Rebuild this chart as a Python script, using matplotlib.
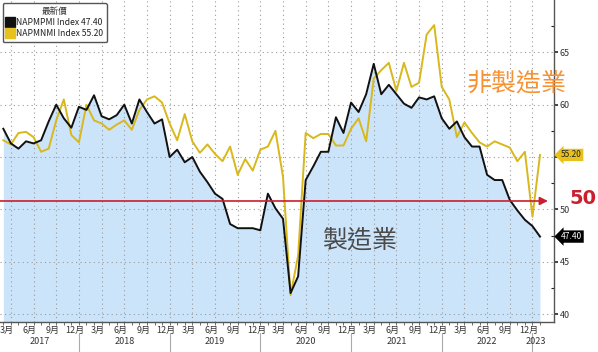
import numpy as np
import pandas as pd
import matplotlib
matplotlib.use("Agg")
import matplotlib.pyplot as plt
import matplotlib.transforms as mtransforms
from matplotlib.lines import Line2D

plt.rcParams["font.family"] = ["Noto Sans CJK TC", "DejaVu Sans"]

# --- data (monthly, Feb 2017 .. Jan 2023) ---
months = pd.period_range("2017-02", "2023-01", freq="M")

napm_pmi = [57.7, 56.3, 55.8, 56.5, 56.3, 56.6, 58.4, 60.0, 58.7, 57.8, 59.8,
            59.5, 60.9, 58.9, 58.6, 59.0, 60.0, 58.2, 60.5, 59.3, 58.2, 58.6,
            55.0, 55.7, 54.5, 55.0, 53.6, 52.6, 51.5, 51.0, 48.6, 48.2, 48.2,
            48.2, 48.0, 51.5, 50.1, 49.1, 42.0, 43.6, 52.8, 54.1, 55.5, 55.5,
            58.8, 57.3, 60.2, 59.3, 61.0, 63.9, 61.0, 61.9, 61.0, 60.1, 59.7,
            60.7, 60.5, 60.8, 58.7, 57.7, 58.4, 56.9, 56.0, 56.0, 53.3, 52.8,
            52.8, 50.9, 49.9, 49.0, 48.4, 47.4]

napm_nmi = [56.6, 56.2, 57.3, 57.4, 56.9, 55.5, 55.8, 58.5, 60.5, 57.1, 56.4,
            60.0, 58.5, 58.2, 57.6, 58.1, 58.5, 57.6, 59.5, 60.5, 60.8, 60.2,
            58.2, 56.6, 59.1, 56.5, 55.4, 56.2, 55.3, 54.6, 56.0, 53.3, 54.8,
            53.7, 55.7, 56.0, 57.5, 53.1, 41.8, 45.6, 57.3, 56.8, 57.2, 57.2,
            56.1, 56.1, 57.7, 58.7, 56.5, 62.5, 63.3, 64.0, 61.3, 64.0, 61.7,
            62.1, 66.7, 67.6, 61.7, 60.5, 56.9, 58.3, 57.3, 56.4, 56.0, 56.5,
            56.2, 55.9, 54.6, 55.5, 49.3, 55.2]

y_ticks = [40, 45, 50, 55, 60, 65]
threshold = 50.8

BLACK = "#111111"
YELLOW = "#d8b81c"
FILL = "#cce4fa"
RED = "#c8202e"
GRID = "#9a9a9a"

x = np.arange(len(months))
ymin, ymax = 39.24, 70.0
xmin, xmax = -0.44, 72.85

fig = plt.figure(figsize=(5.98, 3.52), dpi=100)
ax = fig.add_axes([0.0, 30 / 352, 554 / 598, 322 / 352])
ax.set_xlim(xmin, xmax)
ax.set_ylim(ymin, ymax)

# grid
quarter_idx = [i for i, p in enumerate(months) if p.month in (3, 6, 9, 12)]
for yv in y_ticks:
    ax.axhline(yv, color=GRID, lw=0.8, ls=(0, (1, 3)), zorder=1)
for i in quarter_idx:
    ax.axvline(x[i], color=GRID, lw=0.8, ls=(0, (1, 3)), zorder=1)

# series
ax.fill_between(x, napm_pmi, ymin, color=FILL, lw=0, zorder=0.5)
ax.plot(x, napm_nmi, color=YELLOW, lw=1.4, zorder=3)
ax.plot(x, napm_pmi, color=BLACK, lw=1.4, zorder=4)

# 50 threshold arrow
ax.annotate("", xy=(72.05, threshold), xytext=(xmin, threshold),
            arrowprops=dict(arrowstyle="-|>", color=RED, lw=1.2,
                            mutation_scale=12, shrinkA=0, shrinkB=0),
            zorder=5)

# spines
for s in ("top", "left"):
    ax.spines[s].set_visible(False)
ax.spines["right"].set_color("#555555")
ax.spines["bottom"].set_color("#555555")
ax.spines["right"].set_linewidth(1.0)
ax.spines["bottom"].set_linewidth(1.0)

# y axis on the right
ax.yaxis.tick_right()
ax.set_yticks(y_ticks)
ax.set_yticklabels([str(v) if v != 55 else "" for v in y_ticks])
ax.set_yticks([v + 2.5 for v in y_ticks[:-1]] + [67.5], minor=True)
ax.tick_params(axis="y", which="major", direction="out", length=3, width=1.2,
               color="#222222", labelsize=6.5, labelcolor="#333333", pad=1)
ax.tick_params(axis="y", which="minor", direction="in", length=2.5, width=0.8,
               color="#222222")

# x axis: month ticks and labels
ax.set_xticks(x)
ax.set_xticklabels([])
ax.tick_params(axis="x", which="major", direction="out", length=2, width=0.6,
               color="#555555")
tr = mtransforms.blended_transform_factory(ax.transData, ax.transAxes)
for i in quarter_idx:
    ax.text(x[i] - 0.5, -0.012, f"{months[i].month}月", transform=tr,
            ha="center", va="top", fontsize=6.5, color="#333333")

# year labels and separators
years = sorted(set(p.year for p in months))
for yr in years:
    idx = [i for i, p in enumerate(months) if p.year == yr]
    left = max(xmin, x[idx[0]] - 1)
    right = min(xmax, x[idx[-1]])
    ax.text((left + right) / 2, -0.048, str(yr), transform=tr, ha="center",
            va="top", fontsize=6.5, color="#333333")
    if yr != years[0]:
        sep = x[idx[0]] - 1
        ax.plot([sep, sep], [-0.035, -0.09], transform=tr, color="#aaaaaa",
                lw=0.8, clip_on=False)

# latest value tags on the right axis
ax.annotate(f"{napm_nmi[-1]:.2f}", xy=(1.0, napm_nmi[-1]),
            xycoords=("axes fraction", "data"), xytext=(5, 0),
            textcoords="offset points", ha="left", va="center",
            fontsize=6, color="#222222", annotation_clip=False,
            bbox=dict(boxstyle="larrow,pad=0.2", fc="#e8c21c", ec="none"))
ax.annotate(f"{napm_pmi[-1]:.2f}", xy=(1.0, napm_pmi[-1]),
            xycoords=("axes fraction", "data"), xytext=(5, 0),
            textcoords="offset points", ha="left", va="center",
            fontsize=6, color="white", annotation_clip=False,
            bbox=dict(boxstyle="larrow,pad=0.2", fc="black", ec="none"))

# annotations
ax.text(1.053, 51.0, "50", transform=ax.get_yaxis_transform(), ha="center",
        va="center", fontsize=14, fontweight="bold", color=RED, clip_on=False,
        family="DejaVu Sans")
ax.text(517 / 554, 1 - 83 / 322, "非製造業", transform=ax.transAxes,
        ha="center", va="center", fontsize=18, color="#f79233")
ax.text(360 / 554, 1 - 240 / 322, "製造業", transform=ax.transAxes,
        ha="center", va="center", fontsize=18, color="#4a4a4a", zorder=6)

# legend
handles = [Line2D([], [], ls="none", marker="s", ms=7, color=BLACK),
           Line2D([], [], ls="none", marker="s", ms=7, color="#e8c21c")]
labels = [f"NAPMPMI Index {napm_pmi[-1]:.2f}",
          f"NAPMNMI Index {napm_nmi[-1]:.2f}"]
leg = ax.legend(handles, labels, loc="upper left", bbox_to_anchor=(0.005, 0.99),
                title="最新價", fontsize=6.2, title_fontsize=6.2,
                handlelength=0.8, handletextpad=0.3, borderpad=0.45,
                labelspacing=0.25, borderaxespad=0, fancybox=True,
                framealpha=1, edgecolor="#555555")
leg.get_title().set_color("#333333")
for t in leg.get_texts():
    t.set_color("#222222")
leg.set_zorder(10)

fig.savefig("out.png", dpi=100)
